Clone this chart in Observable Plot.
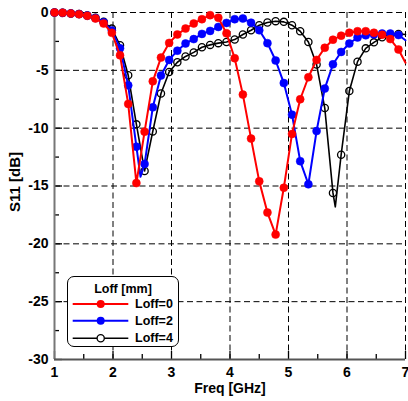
<!DOCTYPE html>
<html>
<head>
<meta charset="utf-8">
<script src="https://cdn.jsdelivr.net/npm/d3@7"></script>
<script src="https://cdn.jsdelivr.net/npm/@observablehq/plot@0.6"></script>
<style>
  html, body { margin: 0; padding: 0; background: #fff; }
  #wrap { position: relative; width: 408px; height: 401px; overflow: hidden; }
  #legend { position: absolute; left: 67px; top: 276px; width: 112px; height: 71px; box-sizing: border-box;
            border: 1.5px solid #000; border-radius: 7px; background: #fff; }
  #legend svg { position: absolute; left: -1.5px; top: -1.5px; overflow: visible; }
</style>
</head>
<body>
<div id="wrap"></div>
<script>
// Frequency points (GHz)
const freq = [1.00,1.14,1.28,1.42,1.56,1.70,1.84,1.98,2.12,2.26,2.40,2.54,2.68,2.82,2.96,3.10,3.24,3.38,3.52,3.66,
              3.80,3.94,4.08,4.22,4.36,4.50,4.64,4.78,4.92,5.06,5.20,5.34,5.48,5.62,5.76,5.90,6.04,6.18,6.32,6.46,
              6.60,6.74,6.88];
// S11 [dB] per series
const s11Loff0 = [0,-0.03,-0.09,-0.15,-0.29,-0.52,-0.95,-1.76,-3.7,-7.9,
                  -14.75,-10.3,-5.95,-3.9,-2.63,-1.9,-1.39,-0.95,-0.58,-0.23,
                  -0.45,-1.8,-3.95,-7.1,-10.9,-14.6,-17.3,-19.2,-15.15,-10.5,
                  -7.5,-5.6,-4.1,-3.05,-2.35,-2.0,-1.75,-1.62,-1.62,-1.75,
                  -1.92,-2.3,-3.2];
const s11Loff2 = [0,-0.03,-0.08,-0.14,-0.27,-0.48,-0.85,-1.55,-3.1,-6.3,
                  -11.6,-13.1,-8.2,-5.45,-4.1,-3.3,-2.68,-2.3,-1.85,-1.59,
                  -1.25,-0.9,-0.58,-0.52,-0.88,-1.53,-2.65,-4.15,-6.1,-8.83,
                  -12.85,-14.85,-10.25,-6.58,-4.48,-3.41,-2.68,-2.16,-1.97,-1.9,
                  -1.82,-1.82,-1.95];
const s11Loff4 = [0,-0.03,-0.08,-0.13,-0.25,-0.45,-0.8,-1.39,-2.83,-5.43,
                  -9.67,-13.7,-10.28,-7.0,-5.14,-4.3,-3.8,-3.45,-3.0,-2.8,
                  -2.65,-2.55,-2.34,-1.9,-1.53,-1.1,-0.87,-0.75,-0.81,-1.1,
                  -1.62,-2.55,-4.5,-8.26,-15.6,-12.3,-6.79,-4.25,-3.1,-2.58,
                  -2.15,-1.95,-1.85];
// Extra line-only samples (finer simulation points between markers)
const lineOnlyFreq0 = [7.0];        const lineOnlyS0 = [-4.35];
const lineOnlyFreq2 = [2.47, 7.0];  const lineOnlyS2 = [-14.2, -2.4];
const lineOnlyFreq4 = [5.80, 7.0];  const lineOnlyS4 = [-16.8, -1.9];

const seriesNames = ["Loff=0", "Loff=2", "Loff=4"];
const seriesColors = ["#ff0000", "#0000ff", "#000000"];
const legendTitle = "Loff [mm]";

const xMajor = [1, 2, 3, 4, 5, 6, 7];
const xMinor = [1.5, 2.5, 3.5, 4.5, 5.5, 6.5];
const yMajor = [0, -5, -10, -15, -20, -25, -30];
const yMinor = [-2.5, -7.5, -12.5, -17.5, -22.5, -27.5];
const xLabel = "Freq [GHz]";
const yLabel = "S11 [dB]";

function pts(xs, ys) { return xs.map((x, i) => ({x, y: ys[i]})); }
function linePts(xs, ys, ex, ey) { return pts(xs, ys).concat(pts(ex, ey)).sort((a, b) => a.x - b.x); }

const markers = [pts(freq, s11Loff0), pts(freq, s11Loff2), pts(freq, s11Loff4)];
const lines = [
  linePts(freq, s11Loff0, lineOnlyFreq0, lineOnlyS0),
  linePts(freq, s11Loff2, lineOnlyFreq2, lineOnlyS2),
  linePts(freq, s11Loff4, lineOnlyFreq4, lineOnlyS4)
];

const W = 408, H = 401, mL = 54, mR = 3, mT = 12, mB = 42;
const frameW = W - mL - mR, frameH = H - mT - mB;
const dash = "6,3.5";

const seriesMarks = [];
for (const i of [2, 1, 0]) {
  seriesMarks.push(Plot.line(lines[i], {x: "x", y: "y", stroke: seriesColors[i], strokeWidth: i === 2 ? 1.6 : 2}));
  if (i === 2) {
    seriesMarks.push(Plot.dot(markers[i], {x: "x", y: "y", r: 3.6, stroke: seriesColors[i], strokeWidth: 1.3, fill: "none"}));
  } else {
    seriesMarks.push(Plot.dot(markers[i], {x: "x", y: "y", r: 4, fill: seriesColors[i], stroke: seriesColors[i], strokeWidth: 0.5}));
  }
}

const chart = Plot.plot({
  width: W, height: H,
  marginLeft: mL, marginRight: mR, marginTop: mT, marginBottom: mB,
  style: {fontFamily: "'Liberation Sans', Arial, sans-serif", fontWeight: "bold", fontSize: "14px", color: "#000", background: "#fff", overflow: "visible"},
  x: {domain: [1, 7]},
  y: {domain: [-30, 0]},
  marks: [
    // dashed grid
    Plot.ruleX(xMajor.slice(1), {stroke: "#000", strokeWidth: 1, strokeDasharray: dash}),
    Plot.ruleY(yMajor.slice(0, -1), {stroke: "#000", strokeWidth: 1, strokeDasharray: dash}),
    // inward ticks
    Plot.ruleX(xMajor, {stroke: "#000", strokeWidth: 1.3, insetTop: frameH - 8}),
    Plot.ruleX(xMinor, {stroke: "#000", strokeWidth: 1.3, insetTop: frameH - 5}),
    Plot.ruleY(yMajor, {stroke: "#000", strokeWidth: 1.3, insetRight: frameW - 8}),
    Plot.ruleY(yMinor, {stroke: "#000", strokeWidth: 1.3, insetRight: frameW - 5}),
    // axis lines
    Plot.ruleX([1], {stroke: "#777", strokeWidth: 2}),
    Plot.ruleY([-30], {stroke: "#555", strokeWidth: 2}),
    // tick labels
    Plot.axisX(xMajor, {tickSize: 0, tickPadding: 8, tickFormat: d => String(d), label: null, fontSize: 14, fontWeight: "bold"}),
    Plot.axisY(yMajor, {tickSize: 0, tickPadding: 6, tickFormat: d => String(d), label: null, fontSize: 14, fontWeight: "bold"}),
    // axis titles
    Plot.text([xLabel], {frameAnchor: "bottom", dy: 29, textAnchor: "middle", lineAnchor: "middle", text: d => d, fontSize: 14, fontWeight: "bold"}),
    Plot.text([yLabel], {frameAnchor: "left", dx: -39, dy: -4, rotate: -90, textAnchor: "middle", lineAnchor: "middle", text: d => d, fontSize: 15, fontWeight: "bold"}),
    ...seriesMarks
  ]
});

const wrap = document.getElementById("wrap");
wrap.appendChild(chart);

// legend overlay
const lg = document.createElement("div");
lg.id = "legend";
const ns = "http://www.w3.org/2000/svg";
const svg = document.createElementNS(ns, "svg");
svg.setAttribute("width", 112); svg.setAttribute("height", 71);
const mk = (tag, attrs, text) => {
  const el = document.createElementNS(ns, tag);
  for (const k in attrs) el.setAttribute(k, attrs[k]);
  if (text != null) el.textContent = text;
  svg.appendChild(el);
  return el;
};
const fontAttrs = {"font-family": "'Liberation Sans', Arial, sans-serif", "font-weight": "bold", "font-size": "12.5"};
mk("text", {...fontAttrs, x: 56, y: 13, "text-anchor": "middle", "dominant-baseline": "central"}, legendTitle);
const rowsY = [28, 44.7, 62.3];
seriesNames.forEach((name, i) => {
  const y = rowsY[i];
  mk("line", {x1: 5.7, x2: 61.3, y1: y, y2: y, stroke: seriesColors[i], "stroke-width": i === 2 ? 1.6 : 2});
  if (i === 2) mk("circle", {cx: 33.7, cy: y, r: 3.6, fill: "#fff", stroke: seriesColors[i], "stroke-width": 1.3});
  else mk("circle", {cx: 33.7, cy: y, r: 4, fill: seriesColors[i]});
  mk("text", {...fontAttrs, x: 68, y: y, "dominant-baseline": "central"}, name);
});
lg.appendChild(svg);
wrap.appendChild(lg);
</script>
</body>
</html>
